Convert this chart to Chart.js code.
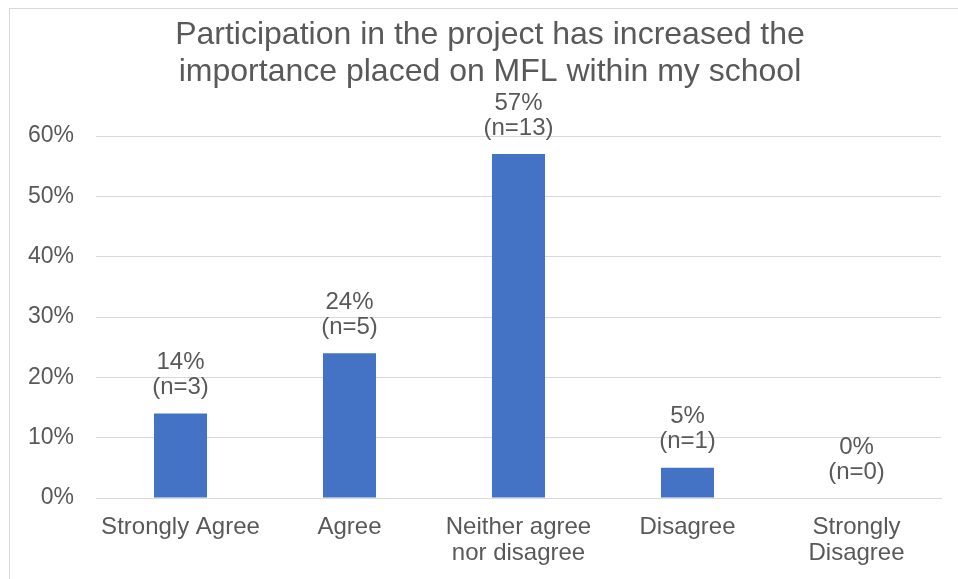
<!DOCTYPE html>
<html>
<head>
<meta charset="utf-8">
<script src="https://cdn.jsdelivr.net/npm/chart.js@4"></script>
<style>
  html, body { margin: 0; padding: 0; background: #fff; }
  #wrap { width: 958px; height: 579px; position: relative; }
</style>
</head>
<body>
<div id="wrap"><canvas id="chart" width="958" height="579"></canvas></div>
<script>
// Survey responses
const categories = ['Strongly Agree', 'Agree', ['Neither agree', 'nor disagree'], 'Disagree', ['Strongly', 'Disagree']];
const percentages = [14, 24, 57, 5, 0];
const counts = [3, 5, 13, 1, 0];
const yTicks = [0, 10, 20, 30, 40, 50, 60];
const titleLines = ['Participation in the project has increased the', 'importance placed on MFL within my school'];

const FONT = "'Liberation Sans', Arial, sans-serif";
const GREY = '#595959';

// Frame, title and value labels
const decorations = {
  id: 'decorations',
  beforeDraw(chart) {
    const ctx = chart.ctx;
    ctx.save();
    ctx.strokeStyle = '#d9d9d9';
    ctx.lineWidth = 1;
    ctx.strokeRect(9.5, 8.5, 1100, 1100);
    ctx.restore();
  },
  afterDatasetsDraw(chart) {
    const ctx = chart.ctx;
    ctx.save();
    ctx.fillStyle = GREY;
    ctx.textAlign = 'center';
    ctx.textBaseline = 'middle';
    ctx.font = '32px ' + FONT;
    titleLines.forEach((t, i) => ctx.fillText(t, 490, 35 + i * 37));

    ctx.font = '24px ' + FONT;
    const meta = chart.getDatasetMeta(0);
    meta.data.forEach((bar, i) => {
      const top = bar.y;
      ctx.fillText('(n=' + counts[i] + ')', bar.x, top - 26);
      ctx.fillText(percentages[i] + '%', bar.x, top - 51);
    });
    ctx.restore();
  }
};

new Chart(document.getElementById('chart'), {
  type: 'bar',
  data: {
    labels: categories,
    datasets: [{
      data: percentages,
      backgroundColor: '#4472C4',
      borderWidth: 0,
      categoryPercentage: 1,
      barPercentage: 0.314
    }]
  },
  options: {
    responsive: false,
    animation: false,
    devicePixelRatio: 1,
    layout: { padding: { top: 136, right: 17, left: 0, bottom: 0 } },
    plugins: { legend: { display: false }, title: { display: false }, tooltip: { enabled: false } },
    scales: {
      x: {
        grid: { display: false, drawTicks: false },
        border: { display: true, color: '#d9d9d9', width: 1 },
        ticks: { color: GREY, font: { family: FONT, size: 24, lineHeight: 1.083 }, padding: 16, maxRotation: 0, autoSkip: false },
        afterFit(scale) { scale.height = 81; }
      },
      y: {
        min: 0,
        max: 60,
        afterBuildTicks(scale) { scale.ticks = yTicks.map(v => ({ value: v })); },
        grid: { color: '#d9d9d9', lineWidth: 1, drawTicks: false },
        border: { display: false },
        ticks: { color: GREY, font: { family: FONT, size: 23 }, padding: 22, callback: v => v + '%' },
        afterFit(scale) { scale.width = 96; }
      }
    }
  },
  plugins: [decorations]
});
</script>
</body>
</html>
